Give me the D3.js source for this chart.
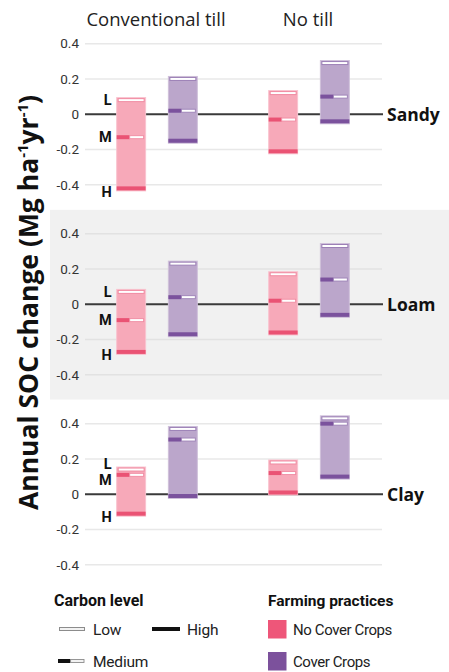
<!DOCTYPE html>
<html>
<head>
<meta charset="utf-8">
<script src="https://cdn.jsdelivr.net/npm/d3@7"></script>
<style>
  html, body { margin: 0; padding: 0; background: #fff; }
  svg { display: block; }
  .narrow { font-family: Roboto, "Liberation Sans", sans-serif; }
  .wide { font-family: "Open Sans", "Noto Sans", sans-serif; }
</style>
</head>
<body>
<svg id="chart" width="449" height="672"></svg>
<script>
// Soil textures (one panel each), tillage systems, farming practices, carbon levels
const soils = ["Sandy", "Loam", "Clay"];
const tillages = ["Conventional till", "No till"];
const practices = ["No Cover Crops", "Cover Crops"];
const levels = ["Low", "Medium", "High"];

// Annual SOC change (Mg ha-1 yr-1) per cell, in order:
// [CT no cover, CT cover, NT no cover, NT cover], each [Low, Medium, High] carbon level
const sandy = [[0.08, -0.13, -0.42], [0.20, 0.02, -0.15], [0.12, -0.03, -0.21], [0.29, 0.10, -0.04]];
const loam  = [[0.07, -0.09, -0.27], [0.23, 0.04, -0.17], [0.17, 0.02, -0.16], [0.33, 0.14, -0.06]];
const clay  = [[0.14, 0.11, -0.11], [0.37, 0.31, -0.01], [0.18, 0.12, 0.01], [0.43, 0.40, 0.10]];
const soilValues = [sandy, loam, clay];

const yTicks = [0.4, 0.2, 0, -0.2, -0.4];
const yTickLabels = ["0.4", "0.2", "0", "-0.2", "-0.4"];
const levelLetters = ["L", "M", "H"];

const palette = {
  "No Cover Crops": { fill: "#f7a9b9", edge: "#f9c3cf", mid: "#f08ba2", dark: "#ea5374", key: "#ee5679" },
  "Cover Crops":    { fill: "#bba6cb", edge: "#cfc0da", mid: "#9c80b6", dark: "#7b529d", key: "#7c519c" }
};

const svg = d3.select("#chart");

const x = d3.scaleBand().domain(tillages).range([81, 385]);
const xInner = d3.scaleBand().domain(practices).range([0, x.bandwidth()])
  .paddingInner(0.44).paddingOuter(0.69);

const panelTop = d3.scalePoint().domain(soils).range([26, 406]);
const yBase = d3.scaleLinear().domain([0.5, -0.5]).range([0, 176.5]);

const gridX0 = 85, gridX1 = 382;

// Draws one carbon-level marker (thick bar across a rectangle)
function drawMarker(g, level, x0, yc, w, c) {
  const h = 4;
  if (level === "Low") {
    g.append("rect").attr("x", x0 + 1.5).attr("y", yc - h / 2 + 0.5).attr("width", w - 3).attr("height", h - 1)
      .attr("fill", c.light).attr("stroke", c.mid).attr("stroke-width", 1);
  } else if (level === "Medium") {
    const split = w * 0.45;
    g.append("rect").attr("x", x0).attr("y", yc - h / 2).attr("width", split).attr("height", h)
      .attr("fill", c.dark);
    g.append("rect").attr("x", x0 + split).attr("y", yc - h / 2 + 0.5).attr("width", w - split - 2).attr("height", h - 1)
      .attr("fill", c.light).attr("stroke", c.mid).attr("stroke-width", 0.9);
  } else {
    g.append("rect").attr("x", x0).attr("y", yc - h / 2).attr("width", w).attr("height", h)
      .attr("fill", c.dark);
  }
}

soils.forEach((soil, si) => {
  const top = panelTop(soil);
  const y = yBase.copy().range([top, top + 176.5]);
  const g = svg.append("g").attr("class", "panel");

  if (soil === "Loam") {
    g.append("rect").attr("x", 50).attr("width", 399)
      .attr("y", y(0.535)).attr("height", y(-0.54) - y(0.535))
      .attr("fill", "#f1f1f1");
  }

  // grid lines
  g.selectAll("line.grid").data(yTicks.filter(d => d !== 0)).join("line")
    .attr("class", "grid")
    .attr("x1", gridX0).attr("x2", gridX1)
    .attr("y1", d => y(d)).attr("y2", d => y(d))
    .attr("stroke", soil === "Loam" ? "#e2e2e2" : "#e8e8e8").attr("stroke-width", 1.5);

  // zero line
  g.append("line").attr("x1", gridX0).attr("x2", gridX1 + 1)
    .attr("y1", y(0)).attr("y2", y(0))
    .attr("stroke", "#3a3a3a").attr("stroke-width", 2);

  // y axis labels
  const axis = d3.axisLeft(y).tickValues(yTicks)
    .tickFormat((d, i) => yTickLabels[i]).tickSize(0).tickPadding(0);
  const ag = g.append("g").attr("transform", "translate(79,0)").call(axis);
  ag.select(".domain").remove();
  ag.selectAll("text").attr("class", "narrow").attr("font-size", 13.5)
    .attr("fill", "#333").attr("font-family", null);

  // soil label
  g.append("text").attr("class", "wide")
    .attr("x", 387).attr("y", y(0)).attr("dy", "0.36em")
    .attr("font-size", 17.5).attr("font-weight", 700).attr("fill", "#111")
    .text(soil);

  // bars
  const cells = [];
  tillages.forEach((t, ti) => practices.forEach((p, pi) => {
    cells.push({ t, p, v: soilValues[si][ti * 2 + pi] });
  }));

  cells.forEach(cell => {
    const c = palette[cell.p];
    const bx = x(cell.t) + xInner(cell.p);
    const bw = xInner.bandwidth();
    const hi = d3.max(cell.v), lo = d3.min(cell.v);
    const bg = g.append("g");
    bg.append("rect").attr("x", bx).attr("width", bw)
      .attr("y", y(hi) - 2.5).attr("height", y(lo) - y(hi) + 5)
      .attr("fill", c.fill).attr("stroke", c.edge).attr("stroke-width", 1);
    levels.forEach((lv, li) => {
      drawMarker(bg, lv, bx, y(cell.v[li]), bw, { light: "#fff", mid: c.mid, dark: c.dark });
    });
  });

  // L / M / H letters beside the first bar, spaced apart where crowded
  const first = cells[0];
  const ys = first.v.map(v => y(v));
  ys[2] += 3;
  for (let k = 0; k < 4; k++) {
    for (let i = 1; i < ys.length; i++) {
      const gap = ys[i] - ys[i - 1];
      if (gap < 16) { const push = (16 - gap) / 2; ys[i - 1] -= push; ys[i] += push; }
    }
  }
  g.selectAll("text.lvl").data(levelLetters).join("text")
    .attr("class", "lvl narrow")
    .attr("x", x(first.t) + xInner(first.p) - 5).attr("y", (d, i) => ys[i]).attr("dy", "0.36em")
    .attr("text-anchor", "end").attr("font-size", 14.5).attr("font-weight", 700).attr("fill", "#111")
    .text(d => d);
});

// column headers
svg.selectAll("text.head").data(tillages).join("text")
  .attr("class", "head wide")
  .attr("x", d => x(d) + x.bandwidth() / 2 - 1).attr("y", 26)
  .attr("text-anchor", "middle").attr("font-size", 18.5).attr("fill", "#222")
  .text(d => d);

// y axis title
const title = svg.append("text").attr("class", "wide")
  .attr("transform", "translate(38,302.5) rotate(-90)")
  .attr("text-anchor", "middle").attr("font-size", 26.5).attr("font-weight", 700).attr("fill", "#111");
title.append("tspan").text("Annual SOC change (Mg ha");
title.append("tspan").attr("baseline-shift", "super").attr("font-size", 15).text("-1");
title.append("tspan").text("yr");
title.append("tspan").attr("baseline-shift", "super").attr("font-size", 15).text("-1");
title.append("tspan").text(")");

// legend: carbon level
const legC = svg.append("g");
legC.append("text").attr("class", "narrow").attr("x", 54).attr("y", 606)
  .attr("font-size", 16).attr("font-weight", 700).attr("fill", "#111").text("Carbon level");
const legPos = [{ x: 58, y: 629 }, { x: 58, y: 661 }, { x: 152, y: 629 }];
const legendInk = { light: "#f2f2f2", mid: "#8c8c8c", dark: "#111" };
levels.forEach((lv, i) => {
  drawMarker(legC, lv, legPos[i].x, legPos[i].y, 28, legendInk);
  legC.append("text").attr("class", "narrow").attr("x", legPos[i].x + 35).attr("y", legPos[i].y)
    .attr("dy", "0.36em").attr("font-size", 15.5).attr("letter-spacing", -0.2).attr("fill", "#222").text(lv);
});

// legend: farming practices
const legF = svg.append("g");
legF.append("text").attr("class", "narrow").attr("x", 268).attr("y", 606)
  .attr("font-size", 15.5).attr("font-weight", 700).attr("fill", "#111").text("Farming practices");
practices.forEach((p, i) => {
  const yy = 620 + i * 32;
  legF.append("rect").attr("x", 268).attr("y", yy).attr("width", 18.5).attr("height", 18.5)
    .attr("fill", palette[p].key);
  legF.append("text").attr("class", "narrow").attr("x", 293).attr("y", yy + 9.5)
    .attr("dy", "0.36em").attr("font-size", 15).attr("letter-spacing", -0.4).attr("fill", "#222").text(p);
});
</script>
</body>
</html>
